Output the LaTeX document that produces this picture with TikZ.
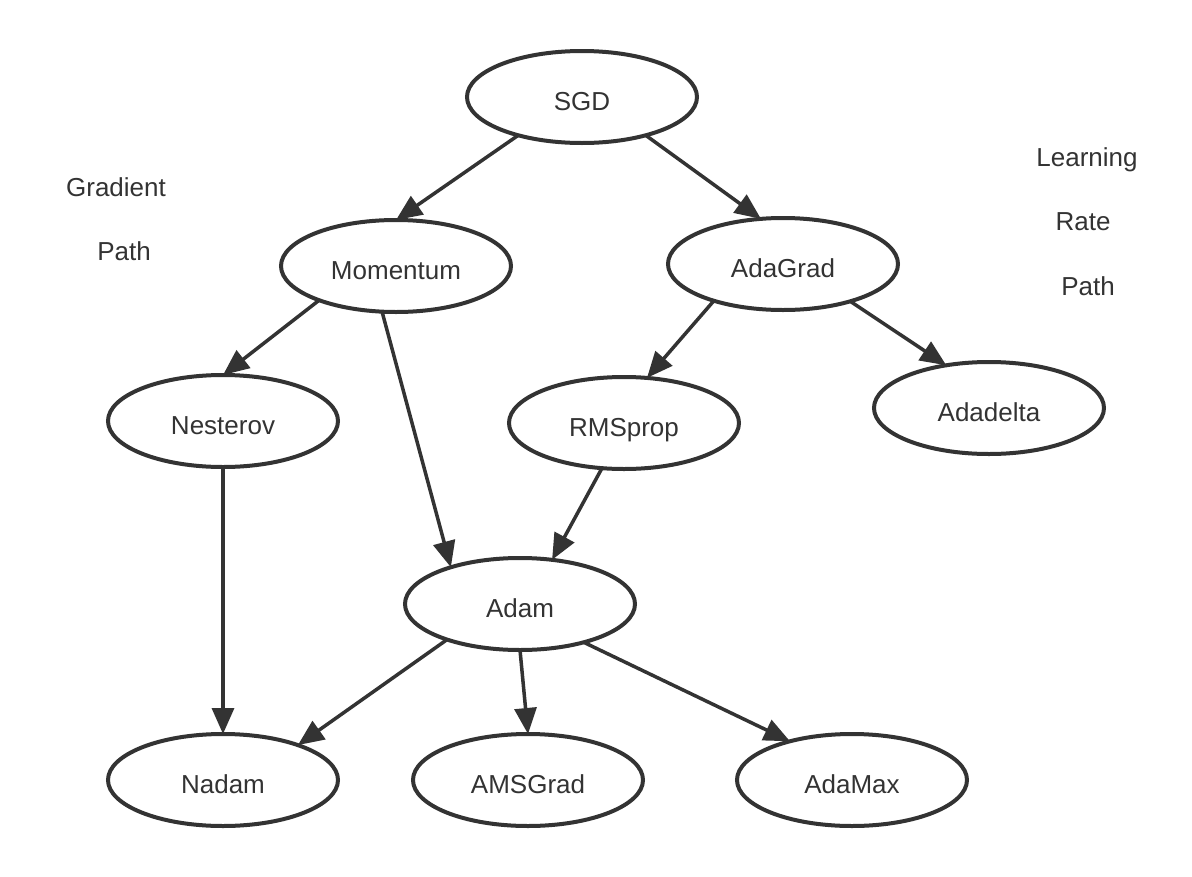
\documentclass[tikz,border=0pt]{standalone}
\usepackage{fontspec}
\setmainfont{Liberation Sans}
\usetikzlibrary{shapes.geometric,arrows.meta}
\definecolor{ink}{HTML}{333333}
\begin{document}
\begin{tikzpicture}[x=1pt,y=-1pt,
  algo/.style={ellipse, draw=ink, line width=4pt, minimum width=230pt, minimum height=92pt, inner sep=0pt, outer sep=0pt, text=ink, text height=27pt, text depth=0pt, font=\fontsize{26}{30}\selectfont},
  lbl/.style={text=ink, inner sep=0pt, font=\fontsize{26}{30}\selectfont},
  conn/.style={draw=ink, line width=3.5pt, -{Triangle[length=26pt,width=22pt]}}]
\useasboundingbox (0,0) rectangle (1192,876);
\node[algo] (sgd) at (582,97) {SGD};
\node[algo] (mom) at (396,266) {Momentum};
\node[algo] (adagrad) at (783,264) {AdaGrad};
\node[algo] (nest) at (223,421) {Nesterov};
\node[algo] (rms) at (624,423) {RMSprop};
\node[algo] (adadelta) at (989,408) {Adadelta};
\node[algo] (adam) at (520,604) {Adam};
\node[algo] (nadam) at (223,780) {Nadam};
\node[algo] (ams) at (528,780) {AMSGrad};
\node[algo] (adamax) at (852,780) {AdaMax};
\node[lbl] (g1) at (116,187) {Gradient};
\node[lbl] (g2) at (124,251) {Path};
\node[lbl] (l1) at (1087,160) {Learning};
\node[lbl] (l2) at (1083,222) {Rate};
\node[lbl] (l3) at (1088,286) {Path};
\draw[conn] (sgd.211) -- (mom.north);
\draw[conn] (sgd.329) -- (adagrad.116);
\draw[conn] (mom.204.5) -- (nest.north);
\draw[conn] (mom.253) -- (adam.152);
\draw[conn] (adagrad.208.7) -- (rms.63);
\draw[conn] (adagrad.331) -- (adadelta.135.6);
\draw[conn] (rms.244) -- (adam.54);
\draw[conn] (nest.south) -- (nadam.north);
\draw[conn] (adam.206) -- (nadam.25);
\draw[conn] (adam.south) -- (ams.north);
\draw[conn] (adam.329) -- (adamax.148);
\end{tikzpicture}
\end{document}
